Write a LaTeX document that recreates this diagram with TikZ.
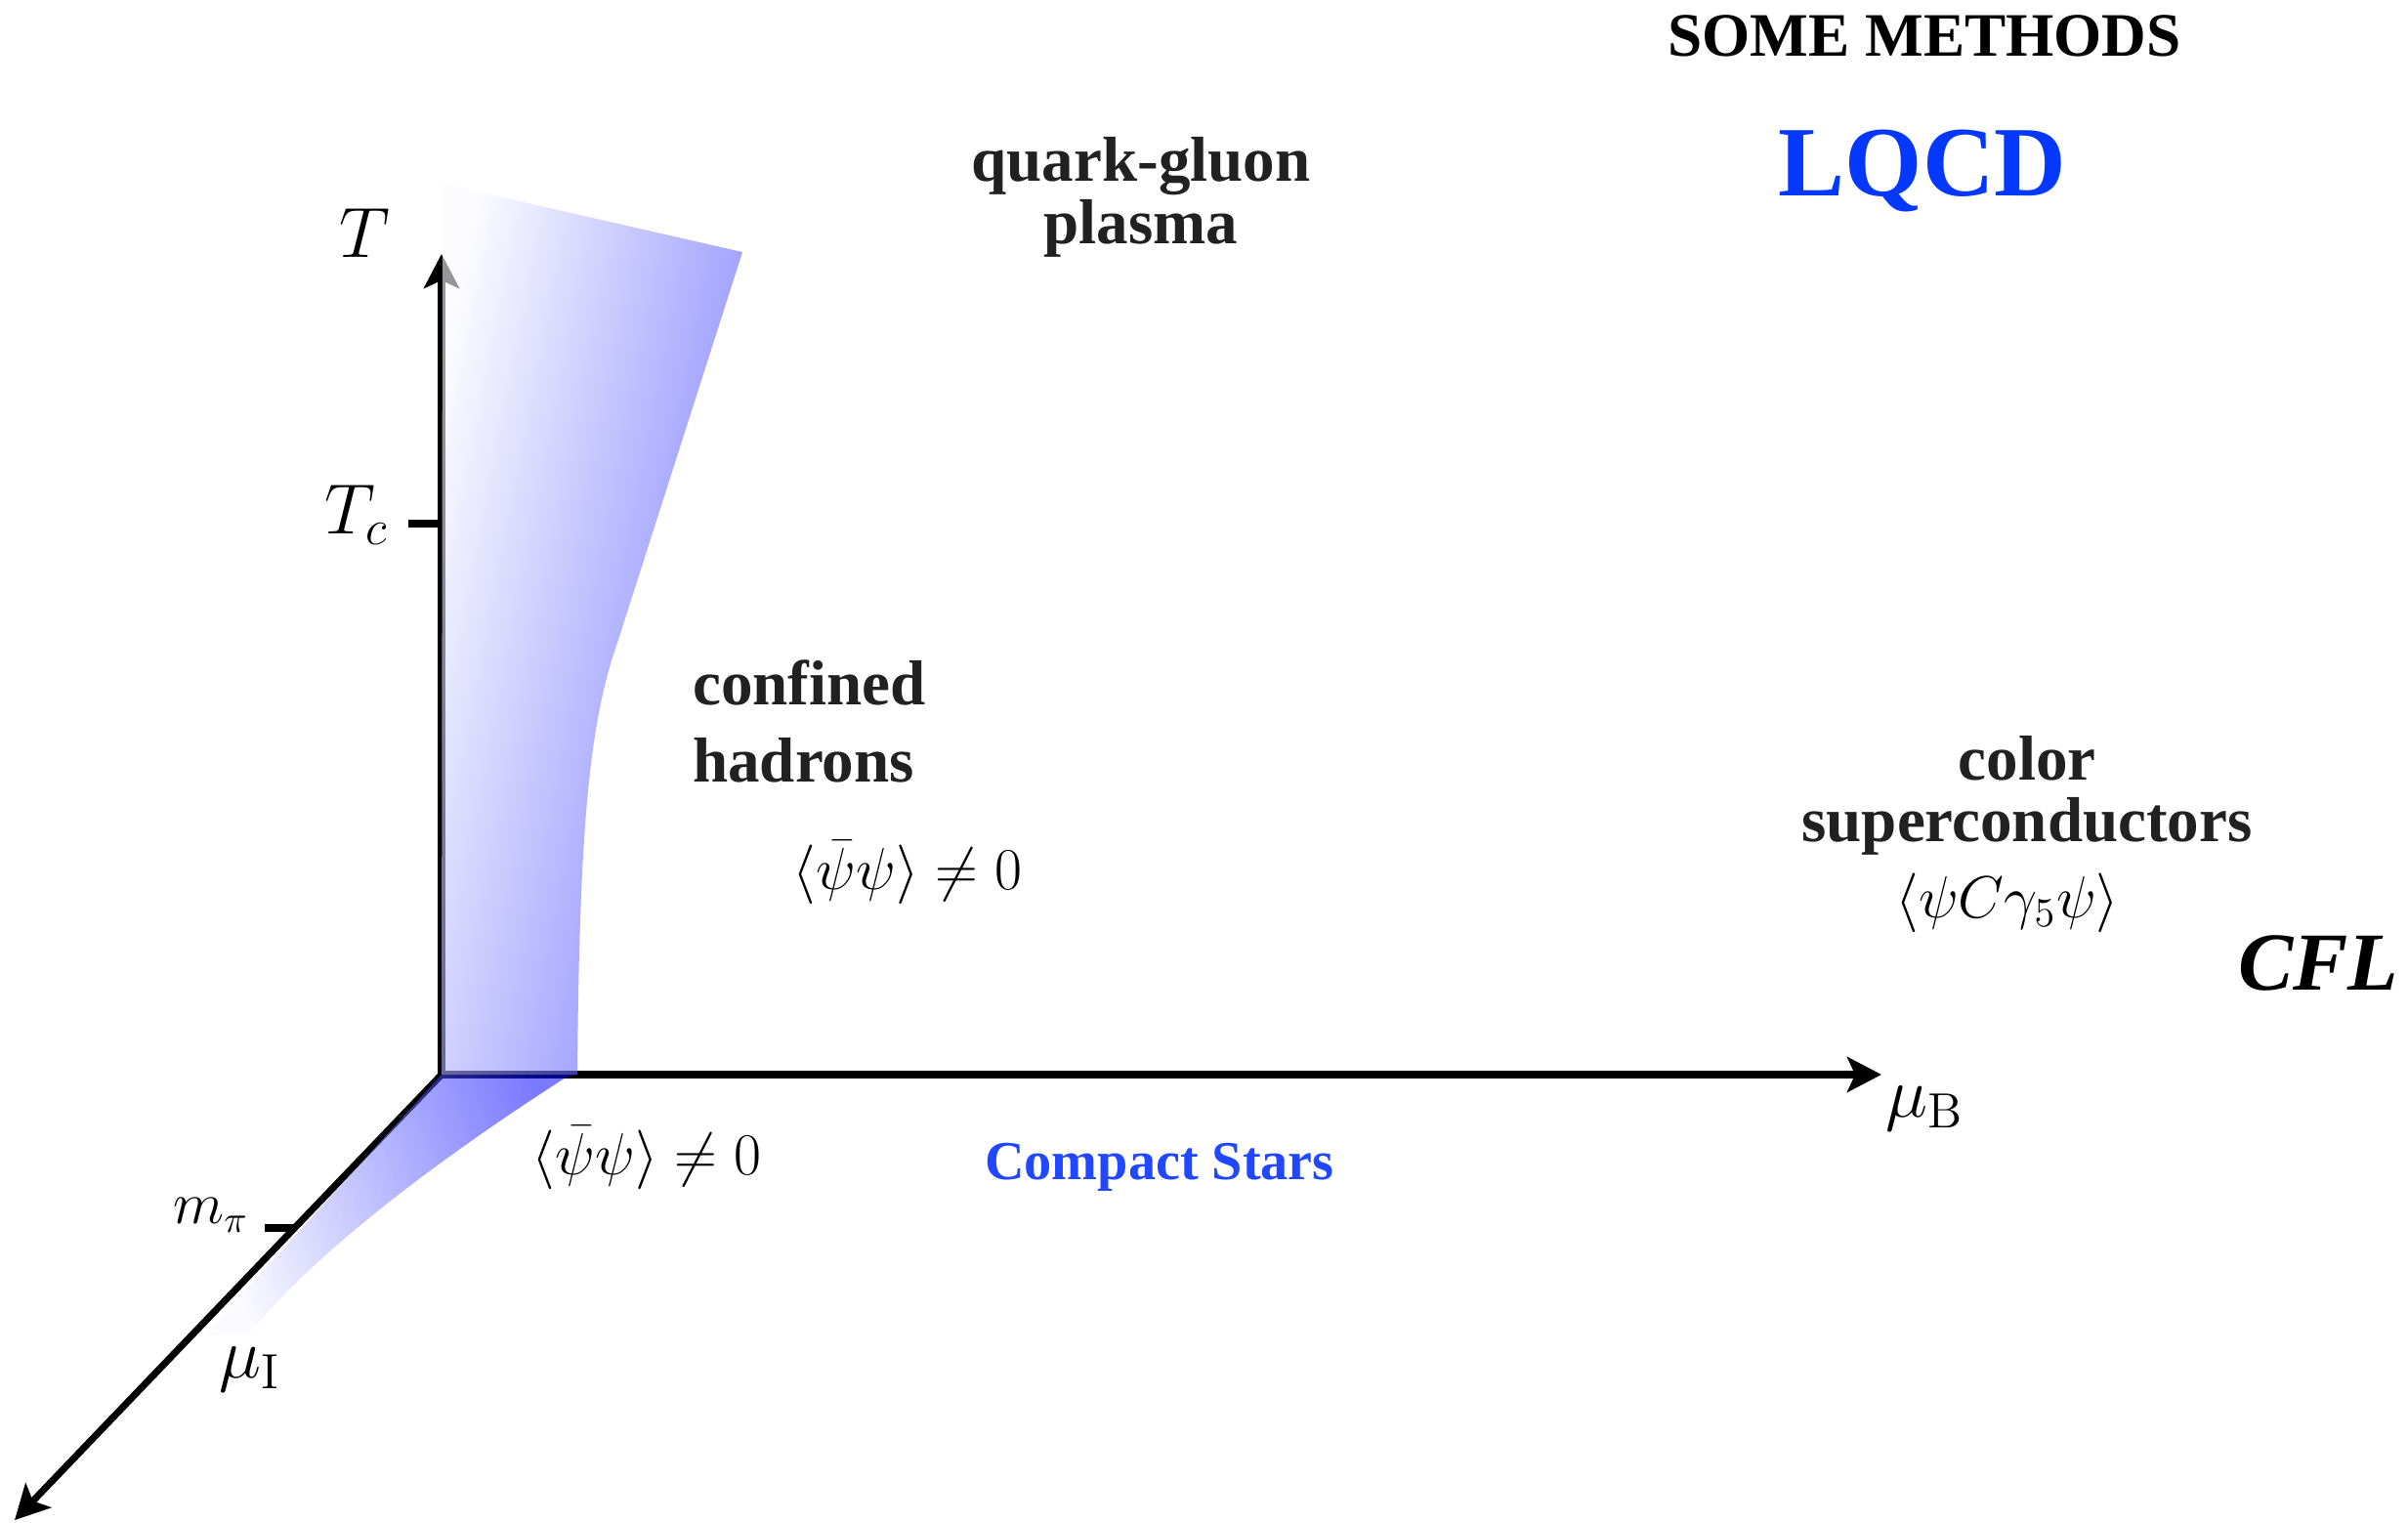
\documentclass[tikz,border=0pt]{standalone}
\usepackage[no-math]{fontspec}
\setmainfont{Liberation Serif}
\usetikzlibrary{arrows.meta}
\definecolor{lqcdblue}{RGB}{5,56,255}
\definecolor{starblue}{RGB}{34,72,255}

\begin{document}
\begin{tikzpicture}[
	axis/.style={line width=2pt, -{Stealth[length=3.5mm, width=3.6mm, inset=0.8mm]}},
	tick/.style={line width=2.5pt},
	phase/.style={font={\fontsize{18.5}{18}\selectfont\bfseries}, text=black!87, align=center, inner sep=1pt},
	axlabel/.style={font={\fontsize{20}{24}\selectfont}},
	cond/.style={font={\fontsize{16.5}{20}\selectfont}, inner sep=1pt},
]
	\useasboundingbox (0,0) rectangle (24.65,15.58);
	\coordinate (O) at (4.52,4.58);
	\coordinate (Ttip) at (4.52,12.98);
	\coordinate (muBtip) at (19.26,4.58);
	\coordinate (muItip) at (0.15,0.02);
	\coordinate (Tc) at (4.52,10.22);
	\coordinate (mpi) at (3.01,3.01);
	\draw[axis] (O) -- (Ttip);
	\draw[axis] (O) -- (muBtip);
	\draw[axis] (O) -- (muItip);
	\draw[tick] (Tc) -- ++(-0.34,0);
	\draw[tick] (mpi) -- ++(-0.30,0);
	\shade[shading=axis, top color=blue!2, bottom color=blue!85, shading angle=79, fill opacity=0.6] (4.53,13.70) -- (7.60,13.00) -- (6.32,9.00) .. controls (6.02,8.15) and (5.93,7.00) .. (5.91,4.58) -- (O) -- cycle;
	\shade[shading=axis, top color=blue!95, bottom color=blue!3, shading angle=-72, fill opacity=0.55] (O) -- (5.89,4.58) -- (5.79,4.55) .. controls (4.70,3.85) and (3.30,2.85) .. (2.55,1.93) -- (2.09,1.91) -- cycle;
	\node[axlabel] (Tlab) at (3.73,13.19) {$T$};
	\node[axlabel] (Tclab) at (3.65,10.31) {$T_c$};
	\node[axlabel] (muBlab) at (19.70,4.23) {$\mu_{\mathrm{B}}$};
	\node[axlabel] (muIlab) at (2.56,1.56) {$\mu_{\mathrm{I}}$};
	\node[font={\fontsize{16}{20}\selectfont}] (mpilab) at (2.16,3.14) {$m_\pi$};
	\node[phase] (qgp) at (11.68,13.56) {quark-gluon\\plasma};
	\node[phase, align=left, anchor=west, font={\fontsize{18.5}{22.5}\selectfont\bfseries}] (hadrons) at (7.05,8.20) {confined\\hadrons};
	\node[cond] (chiral) at (9.29,6.65) {$\langle\bar\psi\psi\rangle\neq0$};
	\node[cond] (chiralI) at (6.62,3.73) {$\langle\bar\psi\psi\rangle\neq0$};
	\node[phase] (csc) at (20.75,7.44) {color\\superconductors};
	\node[font={\fontsize{17}{20}\selectfont}] (diquark) at (20.55,6.34) {$\langle\psi C\gamma_5\psi\rangle$};
	\node[font={\fontsize{24}{28}\selectfont\bfseries\itshape}] (cfl) at (23.73,5.72) {CFL};
	\node[font={\fontsize{18}{20}\selectfont\bfseries}] (methods) at (19.70,15.21) {SOME METHODS};
	\node[font={\fontsize{29}{30}\selectfont\bfseries}, text=lqcdblue] (lqcd) at (19.68,13.83) {LQCD};
	\node[font={\fontsize{16}{20}\selectfont\bfseries}, text=starblue] (stars) at (11.87,3.63) {Compact Stars};
\end{tikzpicture}
\end{document}
